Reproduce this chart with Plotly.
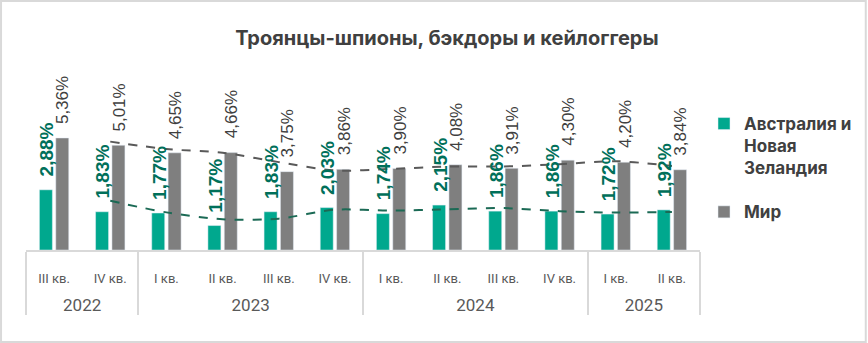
import plotly.graph_objects as go

# ---- data ----
years = ["2022", "2022", "2023", "2023", "2023", "2023",
         "2024", "2024", "2024", "2024", "2025", "2025"]
quarters = ["III кв.", "IV кв.", "I кв.", "II кв.", "III кв.", "IV кв.",
            "I кв.", "II кв.", "III кв.", "IV кв.", "I кв.", "II кв."]
anz = [2.88, 1.83, 1.77, 1.17, 1.83, 2.03, 1.74, 2.15, 1.86, 1.86, 1.72, 1.92]
world = [5.36, 5.01, 4.65, 4.66, 3.75, 3.86, 3.90, 4.08, 3.91, 4.30, 4.20, 3.84]
series_names = ["Австралия и<br>Новая<br>Зеландия", "Мир"]
title_text = "Троянцы-шпионы, бэкдоры и кейлоггеры"

GREEN = "#00A88E"
GREEN_LBL = "#00705A"
GREEN_TREND = "#1B6A55"
GRAY = "#7F7F7F"
GRAY_LBL = "#404040"
GRAY_TREND = "#595959"

W, H = 868, 343
L, R, T, B = 26, 167, 60, 93
plot_w = W - L - R
plot_h = H - T - B
px_per_pct = 20.9
ymax = plot_h / px_per_pct


def fmt(v):
    return f"{v:.2f}".replace(".", ",") + "%"


def ma2(vals):
    return [(vals[i - 1] + vals[i]) / 2 for i in range(1, len(vals))]


# plotly orders inner categories by first appearance; make the 2022 labels
# distinct (zero-width space) so that every year keeps I..IV order
q_keys = ['<span style="font-size:13px">%s</span>' % q + ("\u200b" if y == years[0] else "")
          for q, y in zip(quarters, years)]
year_lbl = ['<br><br><span style="font-size:17px">%s</span>' % y for y in years]
x_multi = [year_lbl, q_keys]

fig = go.Figure()
fig.add_trace(go.Bar(x=x_multi, y=anz, name=series_names[0], marker_color=GREEN,
                     legendgroup="a"))
fig.add_trace(go.Bar(x=x_multi, y=world, name=series_names[1], marker_color=GRAY,
                     legendgroup="b"))

# moving-average (2 periods) trendlines
x_tr = [year_lbl[1:], q_keys[1:]]
fig.add_trace(go.Scatter(x=x_tr, y=ma2(world), mode="lines", showlegend=False,
                         line=dict(color=GRAY_TREND, width=2, dash="dash",
                                   shape="spline", smoothing=0.8),
                         hoverinfo="skip"))
fig.add_trace(go.Scatter(x=x_tr, y=ma2(anz), mode="lines", showlegend=False,
                         line=dict(color=GREEN_TREND, width=2, dash="dash",
                                   shape="spline", smoothing=0.8),
                         hoverinfo="skip"))

# data labels
ann = []
for i, v in enumerate(anz):
    ann.append(dict(x=i, y=v, xref="x", yref="y", text=fmt(v), showarrow=False,
                    textangle=-90, xanchor="center", yanchor="bottom",
                    xshift=-7.5, yshift=11,
                    font=dict(family="Liberation Sans", size=19, color=GREEN_LBL,
                              weight="bold")))
for i, v in enumerate(world):
    ann.append(dict(x=i, y=v, xref="x", yref="y", text=fmt(v), showarrow=False,
                    textangle=-90, xanchor="center", yanchor="bottom",
                    xshift=9, yshift=12,
                    font=dict(family="Liberation Sans", size=17, color=GRAY_LBL)))


def px2paper_x(px):
    return (px - L) / plot_w


def px2paper_y(py):
    return (H - B - py) / plot_h


fig.update_layout(
    width=W, height=H,
    margin=dict(l=L, r=R, t=T, b=B, pad=0),
    paper_bgcolor="white", plot_bgcolor="white",
    barmode="group", bargap=0.417, bargroupgap=0.207,
    title=dict(text=title_text, x=px2paper_x(447.5), xref="paper", xanchor="center",
               y=1 - 38 / H, yanchor="middle",
               font=dict(family="Inter", size=20, color="#404040", weight="bold")),
    legend=dict(x=px2paper_x(704), y=px2paper_y(106), xanchor="left", yanchor="top",
                xref="paper", yref="paper",
                font=dict(family="Inter", size=17, color="#404040", weight="bold"),
                valign="top", tracegroupgap=19, itemwidth=30,
                bgcolor="rgba(0,0,0,0)"),
    annotations=ann,
    showlegend=True,
    shapes=[dict(type="rect", xref="paper", yref="paper",
                 x0=px2paper_x(1), x1=px2paper_x(867),
                 y0=px2paper_y(342), y1=px2paper_y(1),
                 line=dict(color="#D9D9D9", width=2), layer="below")],
)
fig.update_xaxes(type="multicategory", showline=True, linecolor="#D9D9D9", linewidth=1.5,
                 showdividers=True, dividercolor="#D9D9D9", dividerwidth=1.5,
                 ticks="", showgrid=False, zeroline=False, ticklabelstandoff=18,
                 tickfont=dict(family="Roboto", size=11, color="#595959"))
fig.update_yaxes(visible=False, range=[0, ymax], showgrid=False, zeroline=False)

fig.write_html("out.html")
